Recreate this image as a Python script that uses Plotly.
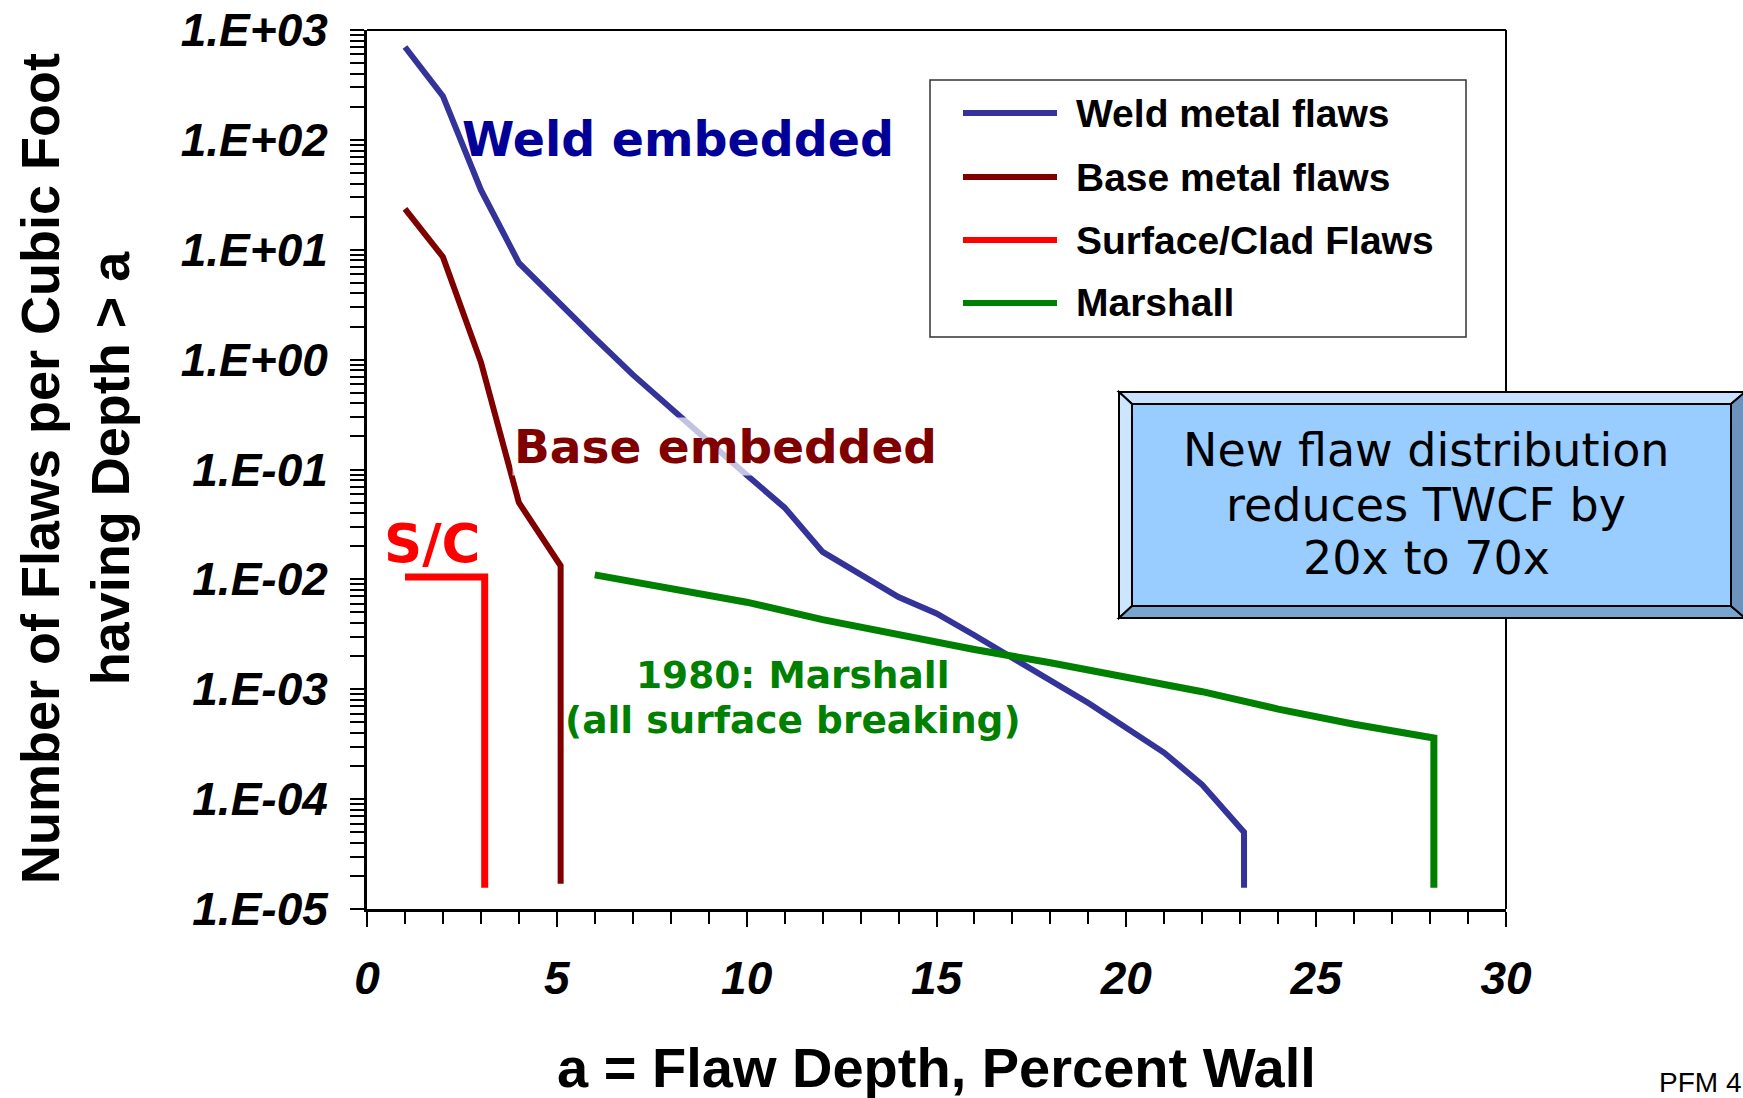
import plotly.graph_objects as go

# Flaw depth a (percent of wall) versus number of flaws per cubic foot with depth > a
weld_depth = [1, 2, 3, 4, 6, 7, 10, 11, 12, 14, 15, 16, 19, 20, 21, 22, 23.1, 23.1]
weld_density = [700, 250, 35, 7.6, 1.57, 0.73, 0.089, 0.045, 0.0178, 0.0069, 0.0049,
                0.0031, 0.00075, 0.00045, 0.000264, 0.000135, 5.0e-5, 1.56e-5]

base_depth = [1, 2, 3, 4, 5.1, 5.1]
base_density = [23.5, 8.6, 0.95, 0.05, 0.0133, 1.7e-5]

clad_depth = [1, 2, 3.1, 3.1]
clad_density = [0.0105, 0.0105, 0.0105, 1.56e-5]

marshall_depth = [6, 8, 10, 12, 14, 16, 18, 20, 22, 24, 26, 28.1, 28.1]
marshall_density = [0.011, 0.0082, 0.0062, 0.0043, 0.0031, 0.0023, 0.00174, 0.00127,
                    0.00095, 0.00066, 0.00048, 0.00036, 1.56e-5]

series_names = ["Weld metal flaws", "Base metal flaws", "Surface/Clad Flaws", "Marshall"]
series_colors = ["#333399", "#800000", "#FF0000", "#008000"]
series_widths = [6, 6, 7, 7]

y_tick_values = [1e-5, 1e-4, 1e-3, 1e-2, 1e-1, 1e0, 1e1, 1e2, 1e3]
y_tick_labels = ["1.E-05", "1.E-04", "1.E-03", "1.E-02", "1.E-01",
                 "1.E+00", "1.E+01", "1.E+02", "1.E+03"]
y_minor_values = [m * v for v in y_tick_values[:-1] for m in range(2, 10)]

# page geometry (pixels)
W, H = 1743, 1098
L, R, T, B = 367, 1506, 30, 909


def px(x):
    return (x - L) / (R - L)


def py(y):
    return (B - y) / (B - T)


ARIAL = "Liberation Sans, Arial, sans-serif"
TAHOMA_B = "DejaVu Sans, Verdana, sans-serif"

fig = go.Figure()
all_series = [
    (weld_depth, weld_density),
    (base_depth, base_density),
    (clad_depth, clad_density),
    (marshall_depth, marshall_density),
]
for (xs, ys), name, color, lw in zip(all_series, series_names, series_colors, series_widths):
    fig.add_trace(go.Scatter(
        x=xs, y=ys, mode="lines", name=name,
        line=dict(color=color, width=lw),
        showlegend=False, hoverinfo="skip",
    ))

tick_font = dict(family=ARIAL, size=46, color="black", weight="bold", style="italic")

fig.update_xaxes(
    range=[0, 30], tickmode="linear", tick0=0, dtick=5,
    showline=True, linecolor="black", linewidth=3,
    ticks="outside", ticklen=15, tickwidth=2, tickcolor="black",
    minor=dict(dtick=1, ticks="outside", ticklen=12, tickwidth=2, tickcolor="black", showgrid=False),
    showgrid=False, zeroline=False, automargin=False,
    tickfont=tick_font, ticklabelstandoff=12,
)
fig.update_yaxes(
    type="log", range=[-5, 3],
    tickmode="array", tickvals=y_tick_values, ticktext=y_tick_labels,
    showline=True, linecolor="black", linewidth=3,
    ticks="outside", ticklen=14, tickwidth=2, tickcolor="black",
    minor=dict(tickmode="array", tickvals=y_minor_values, ticks="outside", ticklen=14,
               tickwidth=2, tickcolor="black", showgrid=False),
    showgrid=False, zeroline=False, automargin=False,
    tickfont=tick_font, ticklabelstandoff=13,
)

shapes = []
# thin top and right frame lines
shapes.append(dict(type="line", xref="paper", yref="paper", x0=0, x1=1, y0=1, y1=1,
                   line=dict(color="black", width=2), layer="above"))
shapes.append(dict(type="line", xref="paper", yref="paper", x0=1, x1=1, y0=0, y1=1,
                   line=dict(color="black", width=2), layer="above"))

# legend panel
shapes.append(dict(type="rect", xref="paper", yref="paper",
                   x0=px(930), x1=px(1466), y0=py(337), y1=py(80),
                   line=dict(color="#333333", width=1.5), fillcolor="white", layer="above"))
legend_rows = [113, 177, 240, 303]
annotations = []
for row_y, name, color in zip(legend_rows, series_names, series_colors):
    shapes.append(dict(type="line", xref="paper", yref="paper",
                       x0=px(963), x1=px(1057), y0=py(row_y), y1=py(row_y),
                       line=dict(color=color, width=6), layer="above"))
    annotations.append(dict(xref="paper", yref="paper", x=px(1074), y=py(row_y),
                            xanchor="left", yanchor="middle", showarrow=False,
                            text=name, font=dict(family=ARIAL, size=39, color="black",
                                                 weight="bold")))

# bevelled call-out box
ox0, oy0, ox1, oy1 = 1119, 392, 1745, 618
ix0, iy0, ix1, iy1 = 1132, 404, 1731, 606


def poly(points):
    return "M " + " L ".join(f"{px(x):.5f},{py(y):.5f}" for x, y in points) + " Z"


bevel_faces = [
    ([(ox0, oy0), (ox1, oy0), (ix1, iy0), (ix0, iy0)], "#C6E2FF"),
    ([(ox0, oy0), (ix0, iy0), (ix0, iy1), (ox0, oy1)], "#CDE6FF"),
    ([(ox0, oy1), (ix0, iy1), (ix1, iy1), (ox1, oy1)], "#79A6CF"),
    ([(ox1, oy0), (ix1, iy0), (ix1, iy1), (ox1, oy1)], "#6C93BC"),
    ([(ix0, iy0), (ix1, iy0), (ix1, iy1), (ix0, iy1)], "#99CCFF"),
]
for pts, fill in bevel_faces:
    shapes.append(dict(type="path", xref="paper", yref="paper", path=poly(pts),
                       fillcolor=fill, line=dict(color="black", width=2), layer="above"))

box_lines = ["New flaw distribution", "reduces TWCF by", "20x to 70x"]
box_line_y = [450, 505, 558]
for text, ly in zip(box_lines, box_line_y):
    annotations.append(dict(xref="paper", yref="paper", x=px(1426), y=py(ly),
                            xanchor="center", yanchor="middle", showarrow=False, text=text,
                            font=dict(family=TAHOMA_B, size=46, color="black")))

# curve labels
annotations += [
    dict(x=8.2, y=2.0, text="Weld embedded", showarrow=False,
         font=dict(family=TAHOMA_B, size=47.5, color="#000099", weight="bold")),
    dict(x=9.45, y=-0.794, text="Base embedded", showarrow=False,
         bgcolor="rgba(255,255,255,0.7)",
         font=dict(family=TAHOMA_B, size=47, color="#800000", weight="bold")),
    dict(x=1.72, y=-1.677, text="S/C", showarrow=False,
         font=dict(family=TAHOMA_B, size=53, color="#FF0000", weight="bold")),
    dict(x=11.22, y=-2.869, text="1980: Marshall", showarrow=False,
         font=dict(family=TAHOMA_B, size=37.5, color="#008000", weight="bold")),
    dict(x=11.22, y=-3.278, text="(all surface breaking)", showarrow=False,
         font=dict(family=TAHOMA_B, size=37.5, color="#008000", weight="bold")),
]

# axis titles and page footer
annotations += [
    dict(xref="paper", yref="paper", x=px(936), y=py(1067), showarrow=False,
         text="a = Flaw Depth, Percent Wall", xanchor="center", yanchor="middle",
         font=dict(family=ARIAL, size=56, color="black", weight="bold")),
    dict(xref="paper", yref="paper", x=px(75), y=py(469), showarrow=False, textangle=-90,
         text="Number of Flaws per Cubic Foot<br>having Depth &gt; a",
         xanchor="center", yanchor="middle",
         font=dict(family=ARIAL, size=54, color="black", weight="bold")),
    dict(xref="paper", yref="paper", x=px(1657), y=py(1082), showarrow=False,
         text="PFM 4", xanchor="left", yanchor="middle",
         font=dict(family=ARIAL, size=28, color="black")),
]

fig.update_layout(
    width=W, height=H,
    margin=dict(l=L, r=W - R, t=T, b=H - B),
    paper_bgcolor="white", plot_bgcolor="white",
    showlegend=False,
    shapes=shapes, annotations=annotations,
)

fig.write_html("out.html")
